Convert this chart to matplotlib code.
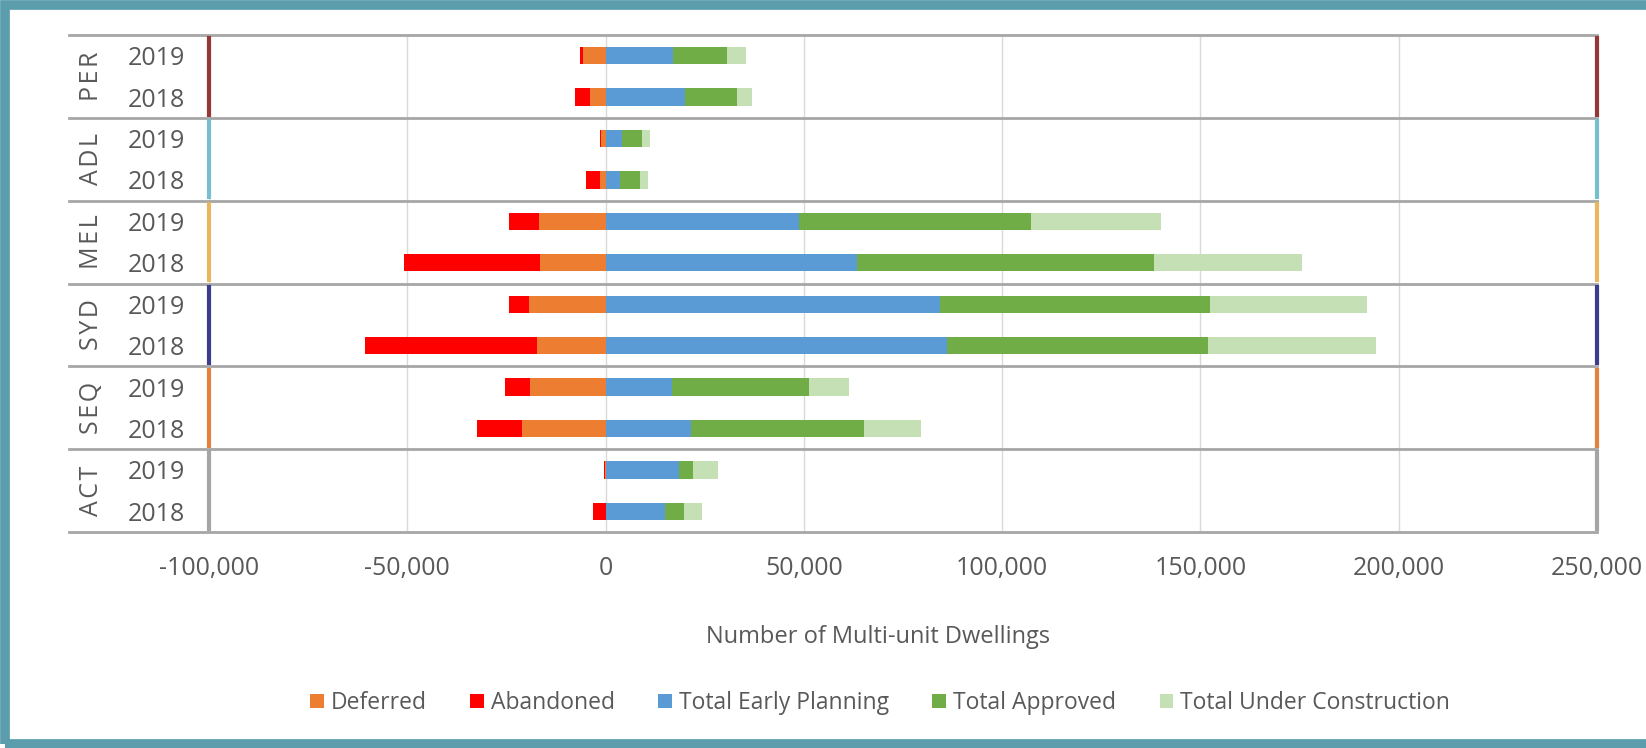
import matplotlib
matplotlib.use("Agg")
import matplotlib.pyplot as plt
from matplotlib.patches import Rectangle
from matplotlib.ticker import FuncFormatter
import numpy as np

plt.rcParams['font.family'] = ['Open Sans', 'DejaVu Sans']

# data (rows top to bottom)
villes = ["PER", "ADL", "MEL", "SYD", "SEQ", "ACT"]
annees = ["2019", "2018"]
deferred = [5800, 4040, 1090, 1500, 16800, 16500, 19300, 17170, 18950, 20990, 100, 0]
abandoned = [760, 3790, 340, 3450, 7470, 34250, 4970, 43390, 6430, 11510, 400, 3060]
early_planning = [17100, 20030, 4040, 3700, 48900, 63300, 84300, 86200, 16780, 21560, 18620, 15020]
approved = [13460, 13050, 5050, 5050, 58300, 75000, 68050, 65800, 34620, 43610, 3520, 4860]
under_construction = [4790, 3790, 2190, 1850, 32950, 37400, 39650, 42200, 9900, 14270, 6290, 4450]

couleurs_villes = ["#953735", "#77BFCF", "#E8B65C", "#3C3C8E", "#E3823C", "#A5A5A5"]
texte = "#595959"

fig = plt.figure(figsize=(16.46, 7.48), dpi=100)

# cadre bleu-vert autour
fig.patches.append(Rectangle((5/1646, 4/748), 1.2, 739/748, transform=fig.transFigure,
                             fill=False, edgecolor="#5B9DAD", linewidth=7))

ax = fig.add_axes([209/1646, 1-532/748, 1388/1646, 497/748])

y = np.arange(len(deferred))
d = np.array(deferred)
a = np.array(abandoned)
ep = np.array(early_planning)
ap = np.array(approved)
uc = np.array(under_construction)
h = 0.42

ax.barh(y, -d, h, color="#ED7D31", label="Deferred")
ax.barh(y, -a, h, left=-d, color="#FF0000", label="Abandoned")
ax.barh(y, ep, h, color="#5B9BD5", label="Total Early Planning")
ax.barh(y, ap, h, left=ep, color="#70AD47", label="Total Approved")
ax.barh(y, uc, h, left=ep+ap, color="#C5E0B4", label="Total Under Construction")

ax.set_xlim(-100000, 250000)
ax.set_ylim(11.5, -0.5)

ax.set_xticks(np.arange(-100000, 250001, 50000))
ax.xaxis.set_major_formatter(FuncFormatter(lambda v, p: f"{int(v):,}"))
ax.grid(axis="x", color="#D9D9D9", linewidth=1)
ax.set_axisbelow(True)

ax.set_yticks(y)
ax.set_yticklabels(annees * len(villes))
ax.tick_params(axis="y", length=0, pad=17, labelsize=18, labelcolor=texte)
ax.tick_params(axis="x", length=0, pad=17, labelsize=18, labelcolor=texte)
for s in ax.spines.values():
    s.set_visible(False)

# separateurs et lignes de couleur par groupe
tr = ax.get_yaxis_transform()
for k in range(len(villes) + 1):
    yy = 2*k - 0.5
    ax.plot([-0.101, 1.0], [yy, yy], transform=tr, color="#A6A6A6", lw=2, clip_on=False, zorder=4)
for k, ville in enumerate(villes):
    y0, y1 = 2*k - 0.5, 2*k + 1.5
    for xv in (-100000, 250000):
        ax.plot([xv, xv], [y0 + 0.03, y1 - 0.03], color=couleurs_villes[k], lw=3, clip_on=False, zorder=5,
                solid_capstyle="butt")
    ax.text(-0.085, 2*k + 0.5, "\u200a".join(ville), transform=tr, rotation=90, ha="center", va="center",
            fontsize=18, color=texte, family=['Open Sans', 'DejaVu Sans'])

fig.text(878/1646, 1-637/748, "Number of Multi-unit Dwellings", ha="center", va="center",
         fontsize=17, color=texte)

fig.legend(loc="center", bbox_to_anchor=(880/1646, 1-703/748), ncol=5, frameon=False,
           fontsize=16.5, labelcolor=texte, handlelength=0.6, handleheight=0.6,
           handletextpad=0.3, columnspacing=1.9)

fig.savefig("out.png", dpi=100)
